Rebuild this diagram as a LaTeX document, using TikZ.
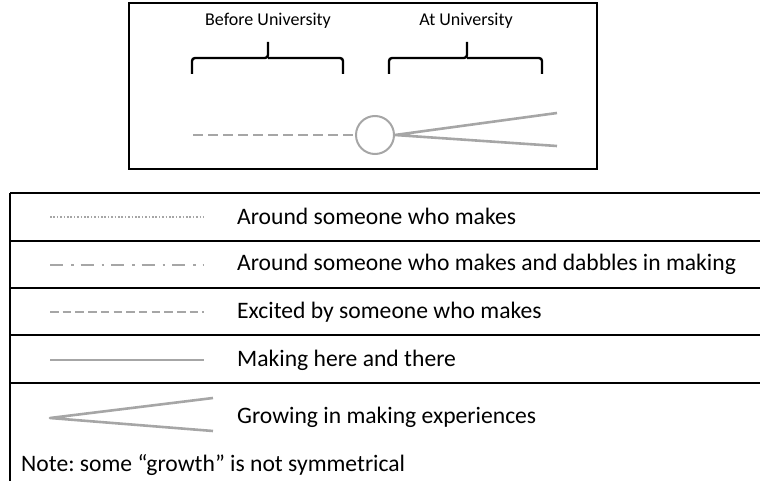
\documentclass[tikz,border=0pt]{standalone}
\usepackage{fontspec}
\setmainfont{Carlito}
\usepackage{xcolor}
\usetikzlibrary{positioning,calc}

\definecolor{pathgray}{HTML}{A6A6A6}
\frenchspacing

\begin{document}
\begin{tikzpicture}[
    x=1pt, y=-1pt,
    frame/.style={draw=black, line width=1.6pt},
    bracket/.style={draw=black, line width=2.4pt, rounded corners=3pt},
    period/.style={font=\fontsize{18}{21}\selectfont, anchor=center},
    pathline/.style={draw=pathgray, line width=2.6pt, line join=round},
    rowline/.style={draw=black, line width=1.4pt},
    legend/.style={font=\fontsize{23.6}{28}\selectfont, anchor=west, inner sep=0pt},
    switch/.style={circle, draw=pathgray, line width=2pt, minimum size=38pt, inner sep=0pt}
]
    \useasboundingbox (0,0) rectangle (760,481);

    % Timeline box at the top
    \draw[frame] (129,3) rectangle (597,169);
    \node[period] (before) at (268,21) {Before University};
    \node[period] (atuni)  at (466,21) {At University};

    % Brackets under the two periods
    \draw[bracket] (192,74) |- (268,58) -- (268,42) (268,58) -| (343,74);
    \draw[bracket] (389,74) |- (467,58) -- (467,42) (467,58) -| (542,74);

    % The path: excited before, growing after
    \node[switch] (turn) at (375,135) {};
    \coordinate (start) at (193,135);
    \coordinate (upper) at (557,113);
    \coordinate (lower) at (557,146);
    \draw[pathline, dash pattern=on 10pt off 5pt] (start) -- (turn.west);
    \draw[pathline] (upper) -- (turn.east) -- (lower);

    % Legend table
    \draw[rowline] (10,193) -- (760,193);
    \foreach \y in {241,288,335,383}
        \draw[rowline] (10,\y) -- (760,\y);
    \draw[rowline] (10,193) -- (10,481);

    \coordinate (s1) at (50,217);  \coordinate (e1) at (204,217);
    \coordinate (s2) at (50,265);  \coordinate (e2) at (204,265);
    \coordinate (s3) at (50,312);  \coordinate (e3) at (204,312);
    \coordinate (s4) at (50,360);  \coordinate (e4) at (204,360);
    \coordinate (tip) at (50,418);
    \coordinate (gup) at (213,398);
    \coordinate (glo) at (213,431);

    \draw[pathline, line width=1.8pt, dash pattern=on 1.6pt off 1.8pt] (s1) -- (e1);
    \draw[pathline, dash pattern=on 13pt off 8pt on 2.5pt off 7pt] (s2) -- (e2);
    \draw[pathline, dash pattern=on 8.5pt off 4.2pt] (s3) -- (e3);
    \draw[pathline] (s4) -- (e4);
    \draw[pathline] (gup) -- (tip) -- (glo);

    \node[legend] (around)  at (237,216) {Around someone who makes};
    \node[legend] (dabbles) at (237,264) {Around someone who makes and dabbles in making};
    \node[legend] (excited) at (237,312) {Excited by someone who makes};
    \node[legend] (here)    at (237,360) {Making here and there};
    \node[legend] (growing) at (237,417) {Growing in making experiences};
    \node[legend] (note)    at (21,465) {Note: some “growth” is not symmetrical};
\end{tikzpicture}
\end{document}
